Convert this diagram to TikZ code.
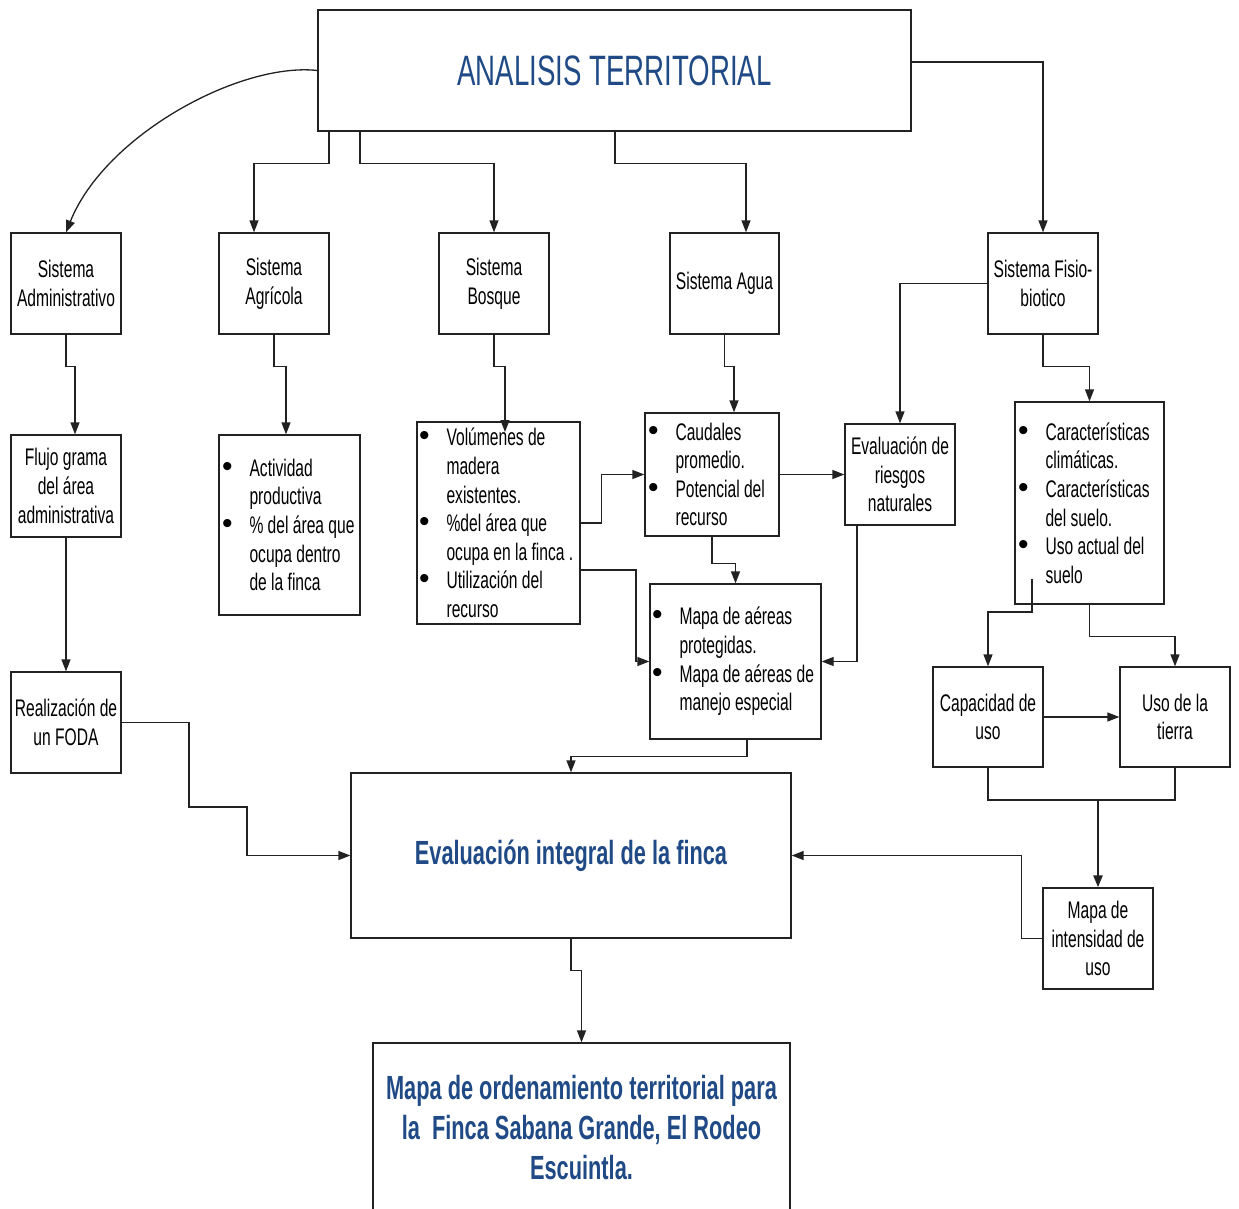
\documentclass[tikz,border=0pt]{standalone}
\usepackage{fontspec}
\setmainfont{Liberation Sans}[FakeStretch=0.65]
\newfontfamily\bulfont{Liberation Sans}
\usetikzlibrary{arrows.meta,calc}
\definecolor{tblue}{HTML}{1F4A86}
\definecolor{lc}{HTML}{222222}
\newcommand{\bul}{\llap{{\bulfont\fontsize{30}{28.6}\selectfont\textbullet}\hspace{17pt}}}
\newcommand{\smtxt}{\fontsize{24}{28.6}\selectfont}
\begin{document}
\begin{tikzpicture}[x=1pt, y=-1pt,
  box/.style={draw=lc, line width=1.3pt, inner sep=0pt, align=center, font=\smtxt},
  arr/.style={draw=lc, line width=1.3pt, -{Triangle[length=12pt,width=9pt]}},
  ln/.style={draw=lc, line width=1.3pt},
  txt/.style={inner sep=0pt, align=left, anchor=west, font=\smtxt}]
\useasboundingbox (0,0) rectangle (1239,1209);
\fill[white] (0,0) rectangle (1239,1209);

% boxes
\node[box, minimum width=593pt, minimum height=121pt, text=tblue, font=\fontsize{42.5}{50}\selectfont] (at) at (614.5,70.5) {ANALISIS TERRITORIAL};
\node[box, minimum width=110pt, minimum height=101pt] (adm) at (66,283.5) {Sistema\\Administrativo};
\node[box, minimum width=110pt, minimum height=101pt] (agr) at (274,283.5) {Sistema\\Agrícola};
\node[box, minimum width=110pt, minimum height=101pt] (bos) at (494,283.5) {Sistema\\Bosque};
\node[box, minimum width=109pt, minimum height=101pt] (agu) at (724.5,283.5) {Sistema Agua};
\node[box, minimum width=110pt, minimum height=101pt] (fis) at (1043,283.5) {Sistema Fisio-\\biotico};
\node[box, minimum width=110pt, minimum height=102pt] (flu) at (66,486) {Flujo grama\\del área\\administrativa};
\node[box, minimum width=141pt, minimum height=180pt] (act) at (289.5,525) {};
\node[box, minimum width=163pt, minimum height=202pt] (vol) at (498.5,523) {};
\node[box, minimum width=134pt, minimum height=123pt] (cau) at (712,474.5) {};
\node[box, minimum width=110pt, minimum height=101pt] (rie) at (900,474.5) {Evaluación de\\riesgos\\naturales};
\node[box, minimum width=149pt, minimum height=202pt] (car) at (1089.5,503) {};
\node[box, minimum width=171pt, minimum height=155pt] (map) at (735.5,661.5) {};
\node[box, minimum width=110pt, minimum height=101pt] (fod) at (66,722.5) {Realización de\\un FODA};
\node[box, minimum width=110pt, minimum height=100pt] (cap) at (988,717) {Capacidad de\\uso};
\node[box, minimum width=110pt, minimum height=100pt] (uso) at (1175,717) {Uso de la\\tierra};
\node[box, minimum width=440pt, minimum height=165pt, text=tblue, font=\fontsize{33.5}{40}\selectfont\bfseries] (eva) at (571,855.5) {Evaluación integral de la finca};
\node[box, minimum width=110pt, minimum height=101pt] (int) at (1098,938.5) {Mapa de\\intensidad de\\uso};
\node[box, minimum width=417pt, minimum height=169pt, text=tblue, font=\fontsize{33.5}{40}\selectfont\bfseries] (ord) at (581.5,1127.5) {Mapa de ordenamiento territorial para\\la~ Finca Sabana Grande, El Rodeo\\Escuintla.};

% bullet texts
\node[txt] (act-t) at ([xshift=31pt]act.west) {\bul Actividad\\productiva\\\bul \% del área que\\ocupa dentro\\de la finca};
\node[txt] (vol-t) at ([xshift=30pt]vol.west) {\bul Volúmenes de\\madera\\existentes.\\\bul \%del área que\\ocupa en la finca .\\\bul Utilización del\\recurso};
\node[txt] (cau-t) at ([xshift=31pt]cau.west) {\bul Caudales\\promedio.\\\bul Potencial del\\recurso};
\node[txt] (car-t) at ([xshift=31pt]car.west) {\bul Características\\climáticas.\\\bul Características\\del suelo.\\\bul Uso actual del\\suelo};
\node[txt] (map-t) at ([xshift=30pt]map.west) {\bul Mapa de aéreas\\protegidas.\\\bul Mapa de aéreas de\\manejo especial};

% helper coordinates
\coordinate (volin) at (505,432);
\coordinate (carin) at (1032,579);
\coordinate (j) at (1098,800);

% connectors
\draw[arr] (at.west) .. controls (240,62) and (105,135) .. (adm.north);
\draw[arr] (at.south -| 329,0) -- ++(0,32) -| (agr.north -| 254,0);
\draw[arr] (at.south -| 360,0) -- ++(0,32) -| (bos.north);
\draw[arr] (at.south -| 615,0) -- ++(0,32) -| (agu.north -| 746,0);
\draw[arr] (at.east |- 0,62) -| (fis.north);
\draw[arr] (adm.south) -- ++(0,32) -| (flu.north -| 75,0);
\draw[arr] (agr.south) -- ++(0,32) -| (act.north -| 286,0);
\draw[arr] (bos.south) -- ++(0,32) -| (volin);
\draw[arr] (agu.south) -- ++(0,32) -| (cau.north -| 734,0);
\draw[arr] (fis.west) -| (rie.north);
\draw[arr] (fis.south) -- ++(0,32) -| (car.north);
\draw[arr] (vol.east) -- ++(21,0) |- (cau.west);
\draw[arr] (vol.east |- 0,570) -- (636,570) |- (map.west);
\draw[arr] (cau.east) -- (rie.west);
\draw[arr] (cau.south) -- ++(0,27) -| (map.north);
\draw[arr] (rie.south -| 857,0) |- (map.east);
\draw[arr] (map.south -| 747,0) -- ++(0,17) -| (eva.north);
\draw[arr] (flu.south) -- (fod.north);
\draw[arr] (fod.east) -| (189,807) -- (247,807) |- (eva.west);
\draw[arr] (carin) -- (1032,612) -| (cap.north);
\draw[arr] (car.south) -- ++(0,32) -| (uso.north);
\draw[arr] (cap.east) -- (uso.west);
\draw[ln] (cap.south) |- (j) -| (uso.south);
\draw[arr, line width=2.4pt] (j) -- (int.north);
\draw[arr] (int.west) -- ++(-21,0) |- (eva.east);
\draw[arr] (eva.south) -- ++(0,32) -| (ord.north);
\end{tikzpicture}
\end{document}
